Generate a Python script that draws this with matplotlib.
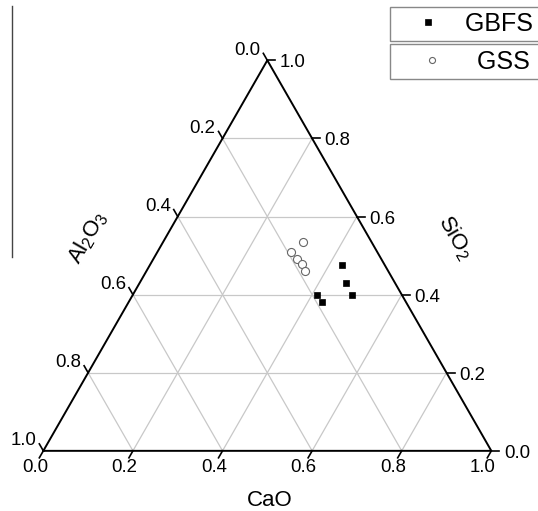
import numpy as np
import matplotlib
matplotlib.use('Agg')
import matplotlib.pyplot as plt
from matplotlib.lines import Line2D

plt.rcParams['font.family'] = ['Liberation Sans', 'DejaVu Sans']
plt.rcParams['mathtext.fontset'] = 'custom'
plt.rcParams['mathtext.rm'] = 'Liberation Sans'
plt.rcParams['mathtext.it'] = 'Liberation Sans:italic'

# composicoes (fracoes)
gbfs_cao = [0.430, 0.460, 0.490, 0.410, 0.433]
gbfs_sio2 = [0.475, 0.430, 0.400, 0.400, 0.380]
gbfs_al2o3 = [0.095, 0.110, 0.110, 0.190, 0.187]

gss_cao = [0.311, 0.299, 0.320, 0.339, 0.353]
gss_sio2 = [0.536, 0.509, 0.492, 0.479, 0.461]
gss_al2o3 = [0.153, 0.192, 0.188, 0.182, 0.186]

ticks = [0.0, 0.2, 0.4, 0.6, 0.8, 1.0]
tick_labels = ['0.0', '0.2', '0.4', '0.6', '0.8', '1.0']

SQ3 = np.sqrt(3) / 2


def tern(cao, sio2, al2o3):
    cao = np.asarray(cao, dtype=float)
    sio2 = np.asarray(sio2, dtype=float)
    al2o3 = np.asarray(al2o3, dtype=float)
    tot = cao + sio2 + al2o3
    cao, sio2 = cao / tot, sio2 / tot
    return cao + sio2 / 2, sio2 * SQ3


fig = plt.figure(figsize=(5.38, 5.11), dpi=100)
ax = fig.add_axes([0, 0, 1, 1])
ax.set_xlim(-0.0967, 1.1042)
ax.set_ylim(-0.1334, 0.9998)
ax.axis('off')

# grade
grid_kw = dict(color='#c8c8c8', lw=0.9, zorder=1)
for v in ticks[1:-1]:
    x, y = tern([0, 1 - v], [v, v], [1 - v, 0])
    ax.plot(x, y, **grid_kw)
    x, y = tern([v, v], [0, 1 - v], [1 - v, 0])
    ax.plot(x, y, **grid_kw)
    x, y = tern([1 - v, 0], [0, 1 - v], [v, v])
    ax.plot(x, y, **grid_kw)

# triangulo
x, y = tern([0, 1, 0, 0], [0, 0, 1, 0], [1, 0, 0, 1])
ax.plot(x, y, color='black', lw=1.4, zorder=2, solid_joinstyle='miter')

# ticks e rotulos
tl = 8 / 448
lab_kw = dict(textcoords='offset pixels', fontsize=13.4, va='baseline')
for t, lab in zip(ticks, tick_labels):
    # CaO (base)
    x0, y0 = tern(t, 0, 1 - t)
    x1, y1 = x0 - 0.5 * tl, y0 - SQ3 * tl
    ax.plot([x0, x1], [y0, y1], color='black', lw=1.2)
    ax.annotate(lab, (x1, y1), xytext=(-4.5, -14.3), ha='center', **lab_kw)
    # Al2O3 (esquerda)
    x0, y0 = tern(0, 1 - t, t)
    x1, y1 = x0 - 0.5 * tl, y0 + SQ3 * tl
    ax.plot([x0, x1], [y0, y1], color='black', lw=1.2)
    ax.annotate(lab, (x1, y1), xytext=(-3, -1.5), ha='right', **lab_kw)
    # SiO2 (direita)
    x0, y0 = tern(1 - t, t, 0)
    x1, y1 = x0 + tl, y0
    ax.plot([x0, x1], [y0, y1], color='black', lw=1.2)
    ax.annotate(lab, (x1, y1), xytext=(4.5, -7), ha='left', **lab_kw)

ax.text(0.505, -0.122, 'CaO', fontsize=16, ha='center', va='baseline')
ax.text(0.919, 0.472, r'SiO$_2$', fontsize=16, ha='center', va='center',
        rotation=-60, rotation_mode='anchor')
ax.text(0.0998, 0.472, r'Al$_2$O$_3$', fontsize=16, ha='center', va='center',
        rotation=60, rotation_mode='anchor')

# dados
x, y = tern(gbfs_cao, gbfs_sio2, gbfs_al2o3)
h1, = ax.plot(x, y, 's', ms=5, color='black', mec='black', mew=0.5,
              label='GBFS ', zorder=4)
x, y = tern(gss_cao, gss_sio2, gss_al2o3)
h2, = ax.plot(x, y, 'o', ms=5.8, mfc='white', mec='#666666', mew=0.8,
              label='GSS ', zorder=4)

leg_kw = dict(loc='upper left', fontsize=18, borderpad=0.21, borderaxespad=0,
              fancybox=False, framealpha=1, edgecolor='#888888',
              bbox_transform=fig.transFigure)
leg1 = ax.legend(handles=[h1], bbox_to_anchor=(390 / 538, 1 - 6.7 / 511),
                 handlelength=2.62, handletextpad=0.17, markerscale=0.75,
                 **leg_kw)
leg1.get_frame().set_linewidth(1.0)
ax.add_artist(leg1)
leg2 = ax.legend(handles=[h2], bbox_to_anchor=(390 / 538, 1 - 44.3 / 511),
                 handlelength=2.92, handletextpad=0.35, markerscale=0.75,
                 **leg_kw)
leg2.get_frame().set_linewidth(1.0)

# linha vertical solta a esquerda
fig.add_artist(Line2D([12 / 538, 12 / 538], [1 - 6 / 511, 1 - 257 / 511],
                      color='#444444', lw=1.0))

fig.savefig('out.png', dpi=100)
